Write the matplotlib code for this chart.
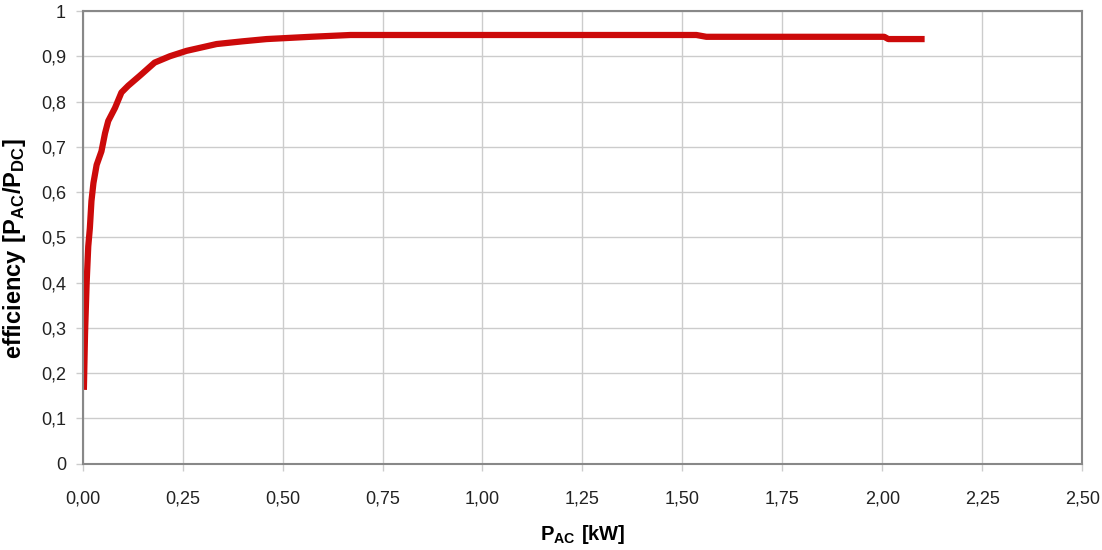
import matplotlib.pyplot as plt
from matplotlib.ticker import FuncFormatter

plt.rcParams['font.family'] = ['Liberation Sans', 'DejaVu Sans']
plt.rcParams['mathtext.fontset'] = 'custom'
plt.rcParams['mathtext.rm'] = 'Liberation Sans'
plt.rcParams['mathtext.bf'] = 'Liberation Sans:bold'

p_ac = [0.003, 0.006, 0.010, 0.014, 0.018, 0.022, 0.027, 0.035, 0.047, 0.056,
        0.064, 0.081, 0.097, 0.114, 0.143, 0.180, 0.218, 0.260, 0.335, 0.400,
        0.460, 0.570, 0.670, 1.535, 1.560, 2.005, 2.015, 2.106]
efficiency = [0.163, 0.289, 0.400, 0.480, 0.520, 0.580, 0.620, 0.660, 0.690, 0.730,
              0.757, 0.786, 0.820, 0.835, 0.857, 0.886, 0.900, 0.912, 0.927, 0.933,
              0.938, 0.943, 0.947, 0.947, 0.943, 0.943, 0.938, 0.938]

x_ticks = [0, 0.25, 0.5, 0.75, 1.0, 1.25, 1.5, 1.75, 2.0, 2.25, 2.5]
y_ticks = [0, 0.1, 0.2, 0.3, 0.4, 0.5, 0.6, 0.7, 0.8, 0.9, 1.0]

fig = plt.figure(figsize=(11.02, 5.5), dpi=100)
ax = fig.add_axes([0.075, 0.157, 0.907, 0.823])

ax.plot(p_ac, efficiency, color='#cc0a0a', lw=4.5, solid_capstyle='butt')

ax.set_xlim(0, 2.5)
ax.set_ylim(0, 1)
ax.set_xticks(x_ticks)
ax.set_yticks(y_ticks)
ax.xaxis.set_major_formatter(FuncFormatter(lambda v, p: f"{v:.2f}".replace('.', ',')))
ax.yaxis.set_major_formatter(FuncFormatter(lambda v, p: f"{v:g}".replace('.', ',')))
ax.grid(True, color='#cccccc', lw=1)
ax.set_axisbelow(True)
for s in ax.spines.values():
    s.set_color('#888888')
    s.set_linewidth(1.5)
ax.tick_params(colors='#cccccc', labelcolor='#222222', labelsize=13, length=5, width=1)
ax.tick_params(axis='x', pad=14)
ax.tick_params(axis='y', pad=7)

ax.set_xlabel(r'$\mathbf{P_{AC}\ [kW]}$', fontsize=14.5)
ax.set_ylabel(r'$\mathbf{efficiency\ [P_{AC}/P_{DC}]}$', fontsize=17)
ax.xaxis.set_label_coords(0.5, -0.132)
ax.yaxis.set_label_coords(-0.055, 0.475)

plt.savefig("out.png")
plt.close()
